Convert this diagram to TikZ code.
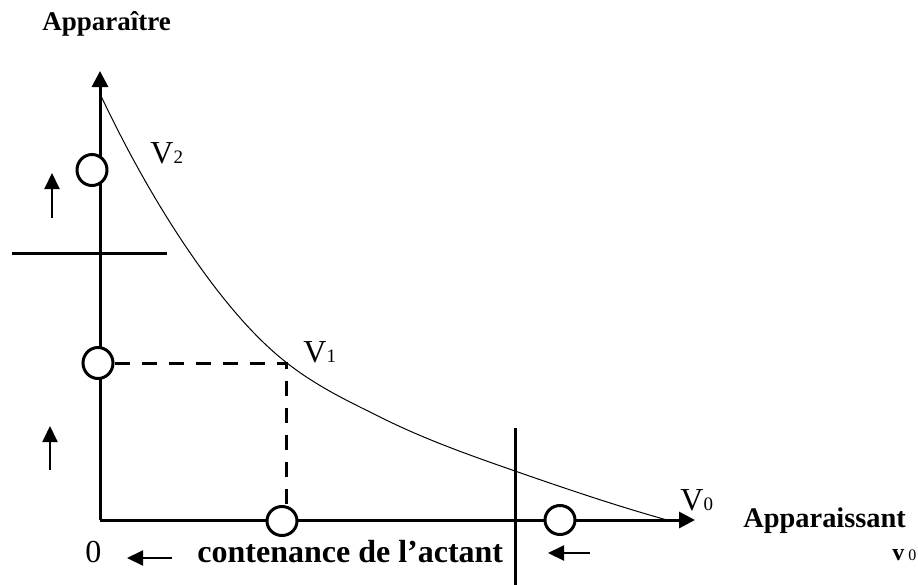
\documentclass[tikz,border=0pt]{standalone}
\usepackage{fontspec}
\setmainfont{Liberation Serif}
\usetikzlibrary{arrows.meta,shapes.geometric}
\newcommand\subdigit[1]{{\fontsize{9.5}{10}\selectfont #1}}
\begin{document}
\begin{tikzpicture}[x=0.5pt,y=-0.5pt,
  axisline/.style={line width=1.5pt,-{Triangle[length=8pt,width=8pt]}},
  thickline/.style={line width=1.5pt},
  dashline/.style={line width=1.5pt,dash pattern=on 7.5pt off 6pt},
  smallarrow/.style={line width=1pt,-{Triangle[length=8pt,width=7.5pt]}},
  ring/.style={ellipse,draw,line width=1.5pt,fill=white,minimum width=15pt,minimum height=15.5pt,inner sep=0pt},
  curveline/.style={line width=0.5pt},
  lbl/.style={anchor=base west,inner sep=0pt,font=\fontsize{16}{18}\selectfont},
  blbl/.style={anchor=base west,inner sep=0pt,font=\bfseries\fontsize{16}{18}\selectfont}
]
\useasboundingbox (0,0) rectangle (918,585);

% axes
\coordinate (O) at (100,520);
\coordinate (ytop) at (100,71);
\coordinate (xend) at (695,520);
\draw[axisline] (O) -- (ytop);
\draw[axisline] (O) -- (xend);

% curve
\coordinate (k0) at (101,96);
\coordinate (k1) at (200,267);
\coordinate (k2) at (287,363);
\coordinate (k3) at (380,417);
\coordinate (k4) at (515,471);
\coordinate (k5) at (667,520);
\draw[curveline] (k0) .. controls (134,165.3) and (167,220.8) .. (k1)
  .. controls (229,307.6) and (258,340.4) .. (k2)
  .. controls (318,387.2) and (349,401.5) .. (k3)
  .. controls (425,439.5) and (470,455.3) .. (k4)
  .. controls (565.7,488.7) and (616.3,505.8) .. (k5);

% cross lines
\coordinate (hl) at (12,253);
\coordinate (hr) at (167,253);
\draw[thickline] (hl) -- (hr);
\coordinate (vt) at (515,428);
\coordinate (vb) at (515,585);
\draw[thickline] (vt) -- (vb);

% circles
\node[ring] (c1) at (92,170) {};
\node[ring] (c2) at (98,363) {};
\node[ring,minimum height=14.5pt] (c3) at (282,521) {};
\node[ring,minimum height=14.5pt] (c4) at (560,520) {};

% dashed projection
\coordinate (corner) at (286,363);
\draw[dashline] (c2.east) -- (corner) -- (corner |- c3.north);

% small arrows
\coordinate (a1s) at (52,218); \coordinate (a1e) at (52,173);
\draw[smallarrow] (a1s) -- (a1e);
\coordinate (a2s) at (50,470); \coordinate (a2e) at (50,426);
\draw[smallarrow] (a2s) -- (a2e);
\coordinate (a3s) at (172,558); \coordinate (a3e) at (127,558);
\draw[smallarrow] (a3s) -- (a3e);
\coordinate (a4s) at (590,553); \coordinate (a4e) at (548,553);
\draw[smallarrow] (a4s) -- (a4e);

% labels
\node[blbl,font=\bfseries\fontsize{13.5}{15}\selectfont] (tY) at (42,30) {Apparaître};
\node[lbl] (tV2) at (150,163) {V\subdigit{2}};
\node[lbl] (tV1) at (303,362) {V\subdigit{1}};
\node[lbl] (tV0) at (680,510) {V\subdigit{0}};
\node[blbl,font=\bfseries\fontsize{14.2}{16}\selectfont] (tX) at (743,527) {Apparaissant};
\node[lbl] (tv0) at (892,560) {\textbf{\fontsize{12}{13}\selectfont v}\hspace{2pt}{\fontsize{8}{9}\selectfont 0}};
\node[lbl] (tzero) at (85,562) {0};
\node[blbl] (tcont) at (197,562) {contenance de l’actant};
\end{tikzpicture}
\end{document}
